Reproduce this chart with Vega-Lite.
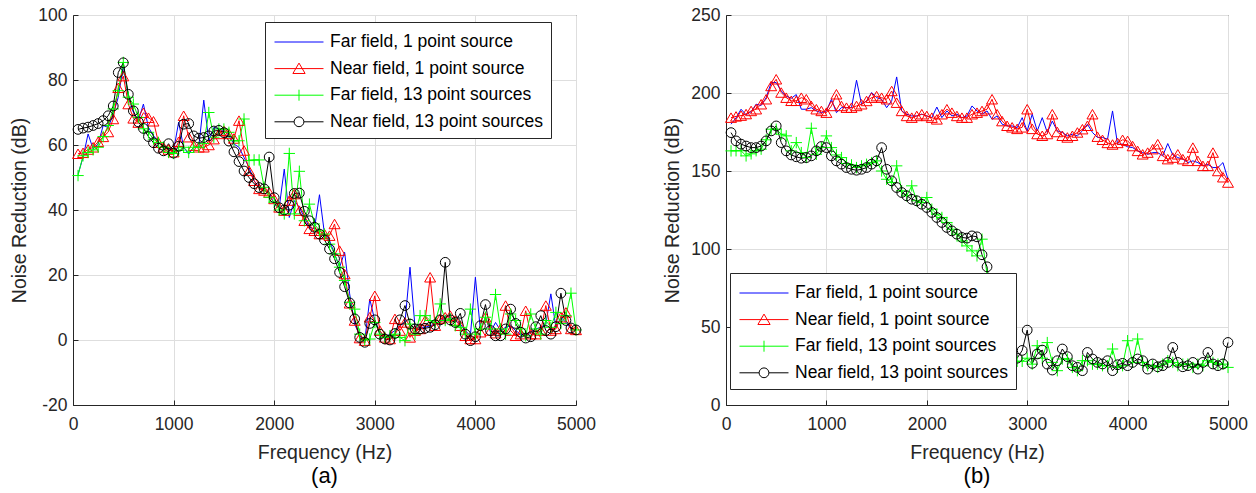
{
"$schema": "https://vega.github.io/schema/vega-lite/v6.json",
"background": "white",
"padding": {"left": 9, "top": 5, "right": 5, "bottom": 5},
"config": {
  "font": "Liberation Sans",
  "view": {"stroke": "#262626", "strokeWidth": 1},
  "axis": {"labelFontSize": 17.5, "titleFontSize": 19.5, "titleFontWeight": "normal", "labelColor": "#262626", "titleColor": "#262626", "domainColor": "#262626", "tickColor": "#262626", "gridColor": "#dedede", "tickSize": -5, "titlePadding": 8, "labelFlush": false},
  "axisX": {"labelPadding": 15, "titlePadding": 11},
  "axisY": {"labelPadding": 11},
  "title": {"fontSize": 22, "fontWeight": "normal", "color": "#000000", "font": "Liberation Sans"}
},
"datasets": {
"a": [
{"f":50,"FF1":51,"NF1":57.3,"FF13":50.6,"NF13":64.8},
{"f":100,"FF1":56.2,"NF1":57.6,"FF13":56.7,"NF13":65.2},
{"f":150,"FF1":63.4,"NF1":58.6,"FF13":57.7,"NF13":65.5},
{"f":200,"FF1":58.8,"NF1":59.3,"FF13":58.5,"NF13":66},
{"f":250,"FF1":60.3,"NF1":61,"FF13":59.3,"NF13":66.6},
{"f":300,"FF1":66,"NF1":62.5,"FF13":62.6,"NF13":67.5},
{"f":350,"FF1":65.4,"NF1":64,"FF13":66,"NF13":69},
{"f":400,"FF1":69.5,"NF1":68,"FF13":71.1,"NF13":72},
{"f":450,"FF1":74.7,"NF1":77.6,"FF13":76.7,"NF13":82.3},
{"f":500,"FF1":84.4,"NF1":81.2,"FF13":85.4,"NF13":85.3},
{"f":550,"FF1":74.7,"NF1":72.6,"FF13":74.7,"NF13":75.6},
{"f":600,"FF1":70.1,"NF1":68.2,"FF13":72.6,"NF13":70.5},
{"f":650,"FF1":67.5,"NF1":66.9,"FF13":68.5,"NF13":67.1},
{"f":700,"FF1":72.6,"NF1":69.9,"FF13":65,"NF13":65.1},
{"f":750,"FF1":65.4,"NF1":68.4,"FF13":63.9,"NF13":62.6},
{"f":800,"FF1":62.9,"NF1":67.3,"FF13":61.8,"NF13":60.7},
{"f":850,"FF1":60.8,"NF1":60.7,"FF13":60.8,"NF13":59},
{"f":900,"FF1":59.3,"NF1":59.3,"FF13":59.3,"NF13":58.2},
{"f":950,"FF1":58.8,"NF1":58.6,"FF13":57.7,"NF13":60.4},
{"f":1000,"FF1":58.3,"NF1":57.8,"FF13":57.4,"NF13":57.5},
{"f":1050,"FF1":67,"NF1":61,"FF13":58.3,"NF13":59.6},
{"f":1100,"FF1":59.3,"NF1":69,"FF13":59.3,"NF13":66.4},
{"f":1150,"FF1":57.2,"NF1":62.4,"FF13":57.7,"NF13":66.6},
{"f":1200,"FF1":59.3,"NF1":59.8,"FF13":59.3,"NF13":62.8},
{"f":1250,"FF1":59.3,"NF1":59.3,"FF13":59.3,"NF13":62.1},
{"f":1300,"FF1":73.8,"NF1":59.3,"FF13":60.5,"NF13":62.3},
{"f":1350,"FF1":61.3,"NF1":60,"FF13":70,"NF13":62.8},
{"f":1400,"FF1":65.4,"NF1":61.8,"FF13":62.4,"NF13":64.3},
{"f":1450,"FF1":64.9,"NF1":63.4,"FF13":64.9,"NF13":64.5},
{"f":1500,"FF1":64.4,"NF1":64.4,"FF13":64.9,"NF13":63.8},
{"f":1550,"FF1":62.9,"NF1":63.4,"FF13":63.9,"NF13":61.2},
{"f":1600,"FF1":60.3,"NF1":62,"FF13":61.3,"NF13":57.9},
{"f":1650,"FF1":59.3,"NF1":67.5,"FF13":61.3,"NF13":54.9},
{"f":1700,"FF1":56.2,"NF1":58.3,"FF13":68,"NF13":52},
{"f":1750,"FF1":53.1,"NF1":52.1,"FF13":55.2,"NF13":50},
{"f":1800,"FF1":49,"NF1":49,"FF13":55.4,"NF13":48.1},
{"f":1850,"FF1":47,"NF1":46.5,"FF13":55.4,"NF13":46.9},
{"f":1900,"FF1":46,"NF1":46,"FF13":47,"NF13":46.5},
{"f":1950,"FF1":45.4,"NF1":45.4,"FF13":43.9,"NF13":56.3},
{"f":2000,"FF1":41.8,"NF1":43.4,"FF13":42.4,"NF13":43.8},
{"f":2050,"FF1":40.8,"NF1":40.8,"FF13":40,"NF13":40.7},
{"f":2100,"FF1":52.6,"NF1":39.8,"FF13":38.8,"NF13":40},
{"f":2150,"FF1":37.7,"NF1":42.9,"FF13":57.4,"NF13":41.5},
{"f":2200,"FF1":42.9,"NF1":44.9,"FF13":38.8,"NF13":45.1},
{"f":2250,"FF1":40.8,"NF1":39.8,"FF13":51.9,"NF13":45.2},
{"f":2300,"FF1":37.7,"NF1":36.7,"FF13":36.7,"NF13":39.6},
{"f":2350,"FF1":34.7,"NF1":34.2,"FF13":41.8,"NF13":36.7},
{"f":2400,"FF1":34.2,"NF1":33.6,"FF13":35.7,"NF13":34.7},
{"f":2450,"FF1":44.7,"NF1":32.6,"FF13":33.6,"NF13":32.6},
{"f":2500,"FF1":32.6,"NF1":32.6,"FF13":32.6,"NF13":30.8},
{"f":2550,"FF1":30.6,"NF1":32.1,"FF13":29.5,"NF13":28},
{"f":2600,"FF1":26.5,"NF1":35.7,"FF13":26.5,"NF13":25},
{"f":2650,"FF1":22.4,"NF1":27.5,"FF13":22.4,"NF13":20.8},
{"f":2700,"FF1":27,"NF1":20.3,"FF13":18.3,"NF13":16.4},
{"f":2750,"FF1":14.2,"NF1":11.3,"FF13":11.6,"NF13":11.4},
{"f":2800,"FF1":4.9,"NF1":6,"FF13":9.5,"NF13":6.5},
{"f":2850,"FF1":1.3,"NF1":0.6,"FF13":1.8,"NF13":0.8},
{"f":2900,"FF1":-0.2,"NF1":-0.2,"FF13":0,"NF13":-0.7},
{"f":2950,"FF1":12.6,"NF1":7,"FF13":0.3,"NF13":5.1},
{"f":3000,"FF1":6,"NF1":13.6,"FF13":5.4,"NF13":6.2},
{"f":3050,"FF1":2.4,"NF1":2.9,"FF13":1.8,"NF13":1.8},
{"f":3100,"FF1":0.8,"NF1":0.8,"FF13":0.8,"NF13":0.3},
{"f":3150,"FF1":1.8,"NF1":0.3,"FF13":1.3,"NF13":0},
{"f":3200,"FF1":2.9,"NF1":6.5,"FF13":1.8,"NF13":2},
{"f":3250,"FF1":4.4,"NF1":2.9,"FF13":0.8,"NF13":6.2},
{"f":3300,"FF1":5.4,"NF1":5.4,"FF13":-0.2,"NF13":10.6},
{"f":3350,"FF1":22.4,"NF1":0.8,"FF13":4.9,"NF13":4.9},
{"f":3400,"FF1":3.9,"NF1":2.9,"FF13":1.8,"NF13":3.4},
{"f":3450,"FF1":3.9,"NF1":3.4,"FF13":7.5,"NF13":3.4},
{"f":3500,"FF1":3.9,"NF1":6,"FF13":7.5,"NF13":3.6},
{"f":3550,"FF1":4.4,"NF1":19.3,"FF13":6,"NF13":3.9},
{"f":3600,"FF1":4.9,"NF1":4.4,"FF13":5.4,"NF13":4.7},
{"f":3650,"FF1":5.4,"NF1":6.5,"FF13":11.1,"NF13":6.2},
{"f":3700,"FF1":7.5,"NF1":7,"FF13":6,"NF13":23.9},
{"f":3750,"FF1":7,"NF1":7.5,"FF13":6.5,"NF13":6.2},
{"f":3800,"FF1":6,"NF1":6,"FF13":4.4,"NF13":5.4},
{"f":3850,"FF1":4.9,"NF1":4.4,"FF13":3.9,"NF13":8.2},
{"f":3900,"FF1":2.9,"NF1":1.3,"FF13":1.8,"NF13":1.8},
{"f":3950,"FF1":1.3,"NF1":0.3,"FF13":9.5,"NF13":-0.2},
{"f":4000,"FF1":19.3,"NF1":0.3,"FF13":1.8,"NF13":1},
{"f":4050,"FF1":2.9,"NF1":2.4,"FF13":3.4,"NF13":4.4},
{"f":4100,"FF1":7,"NF1":7,"FF13":7,"NF13":10.9},
{"f":4150,"FF1":2.4,"NF1":2.9,"FF13":3.4,"NF13":2.9},
{"f":4200,"FF1":5.4,"NF1":2.1,"FF13":14,"NF13":1.3},
{"f":4250,"FF1":2.9,"NF1":3.4,"FF13":3.4,"NF13":1.3},
{"f":4300,"FF1":3.9,"NF1":10.6,"FF13":1.8,"NF13":3.4},
{"f":4350,"FF1":4.4,"NF1":2.9,"FF13":8,"NF13":9.5},
{"f":4400,"FF1":2.9,"NF1":1.3,"FF13":6,"NF13":5.1},
{"f":4450,"FF1":1.8,"NF1":1.8,"FF13":3.4,"NF13":2.4},
{"f":4500,"FF1":1.3,"NF1":9,"FF13":1.3,"NF13":0.6},
{"f":4550,"FF1":2.4,"NF1":1.8,"FF13":8,"NF13":1},
{"f":4600,"FF1":3.4,"NF1":1.8,"FF13":3.4,"NF13":4.1},
{"f":4650,"FF1":3.9,"NF1":2.9,"FF13":1.8,"NF13":7.5},
{"f":4700,"FF1":4.9,"NF1":10.6,"FF13":6,"NF13":2.9},
{"f":4750,"FF1":14.2,"NF1":2.9,"FF13":3.9,"NF13":1.8},
{"f":4800,"FF1":3.9,"NF1":3.4,"FF13":8.5,"NF13":4.1},
{"f":4850,"FF1":7,"NF1":7,"FF13":5.1,"NF13":14.4},
{"f":4900,"FF1":5.4,"NF1":8.5,"FF13":7.5,"NF13":6},
{"f":4950,"FF1":3.4,"NF1":3.4,"FF13":14.4,"NF13":3.7},
{"f":5000,"FF1":3.1,"NF1":3.1,"FF13":3.1,"NF13":3.1}
],
"b": [
{"f":50,"FF1":180,"NF1":184.2,"FF13":162.9,"NF13":174.6},
{"f":100,"FF1":184,"NF1":185,"FF13":163,"NF13":169.3},
{"f":150,"FF1":189.6,"NF1":185.5,"FF13":163,"NF13":167.2},
{"f":200,"FF1":186,"NF1":186.5,"FF13":159.7,"NF13":166},
{"f":250,"FF1":188,"NF1":188.5,"FF13":161,"NF13":165},
{"f":300,"FF1":192.8,"NF1":189.6,"FF13":163,"NF13":165},
{"f":350,"FF1":192,"NF1":192.8,"FF13":164,"NF13":166},
{"f":400,"FF1":197,"NF1":196,"FF13":170,"NF13":169.3},
{"f":450,"FF1":206.7,"NF1":204.5,"FF13":176.8,"NF13":175.7},
{"f":500,"FF1":206.7,"NF1":208.8,"FF13":176.8,"NF13":178.9},
{"f":550,"FF1":201.3,"NF1":200.3,"FF13":173.6,"NF13":168.2},
{"f":600,"FF1":198,"NF1":197,"FF13":172.5,"NF13":162.9},
{"f":650,"FF1":196.6,"NF1":195,"FF13":162.9,"NF13":160.3},
{"f":700,"FF1":199,"NF1":195,"FF13":168.2,"NF13":159.1},
{"f":750,"FF1":189.6,"NF1":197,"FF13":161.8,"NF13":158.2},
{"f":800,"FF1":189.6,"NF1":196,"FF13":158.6,"NF13":158.6},
{"f":850,"FF1":190.6,"NF1":191.7,"FF13":177.4,"NF13":159.7},
{"f":900,"FF1":188.5,"NF1":189.6,"FF13":160.7,"NF13":162.9},
{"f":950,"FF1":187.4,"NF1":188.5,"FF13":165,"NF13":165.7},
{"f":1000,"FF1":188.5,"NF1":187.4,"FF13":172.5,"NF13":165},
{"f":1050,"FF1":196,"NF1":191.7,"FF13":165,"NF13":159.7},
{"f":1100,"FF1":187.4,"NF1":199.2,"FF13":160.3,"NF13":156.5},
{"f":1150,"FF1":190.6,"NF1":191.7,"FF13":158.6,"NF13":154.4},
{"f":1200,"FF1":190.6,"NF1":190.6,"FF13":154.8,"NF13":152.2},
{"f":1250,"FF1":190.6,"NF1":190.6,"FF13":153.9,"NF13":151.1},
{"f":1300,"FF1":208.2,"NF1":191.7,"FF13":152.2,"NF13":150.5},
{"f":1350,"FF1":192.8,"NF1":192.8,"FF13":153.3,"NF13":151.1},
{"f":1400,"FF1":194.9,"NF1":194.9,"FF13":154.3,"NF13":152.2},
{"f":1450,"FF1":200.3,"NF1":197,"FF13":155.4,"NF13":154.4},
{"f":1500,"FF1":197,"NF1":198,"FF13":156.5,"NF13":156.5},
{"f":1550,"FF1":196,"NF1":197,"FF13":150,"NF13":165},
{"f":1600,"FF1":190.6,"NF1":196,"FF13":144.7,"NF13":151.1},
{"f":1650,"FF1":195,"NF1":201.3,"FF13":142.6,"NF13":143.7},
{"f":1700,"FF1":210.3,"NF1":193.8,"FF13":153.3,"NF13":139.4},
{"f":1750,"FF1":188.5,"NF1":188.5,"FF13":137.3,"NF13":136.2},
{"f":1800,"FF1":186.4,"NF1":185.3,"FF13":134.1,"NF13":134.1},
{"f":1850,"FF1":185.3,"NF1":184.2,"FF13":140.5,"NF13":131.9},
{"f":1900,"FF1":185.3,"NF1":185.3,"FF13":130.9,"NF13":130.9},
{"f":1950,"FF1":186.4,"NF1":186.4,"FF13":129.8,"NF13":128.7},
{"f":2000,"FF1":185.3,"NF1":185.3,"FF13":133,"NF13":126.6},
{"f":2050,"FF1":184.2,"NF1":184.2,"FF13":125.5,"NF13":123.4},
{"f":2100,"FF1":191,"NF1":183.1,"FF13":122.3,"NF13":120.2},
{"f":2150,"FF1":184.2,"NF1":186.4,"FF13":120.2,"NF13":117},
{"f":2200,"FF1":188.5,"NF1":189.6,"FF13":117,"NF13":113.8},
{"f":2250,"FF1":185.3,"NF1":187.4,"FF13":112.7,"NF13":111.6},
{"f":2300,"FF1":186.4,"NF1":185.3,"FF13":109.5,"NF13":109.5},
{"f":2350,"FF1":184.2,"NF1":184.2,"FF13":105.2,"NF13":107.4},
{"f":2400,"FF1":185.3,"NF1":184.2,"FF13":102,"NF13":107},
{"f":2450,"FF1":191.7,"NF1":186.4,"FF13":98.8,"NF13":108.4},
{"f":2500,"FF1":188.5,"NF1":187.4,"FF13":95.6,"NF13":107.8},
{"f":2550,"FF1":186.4,"NF1":188.5,"FF13":106.3,"NF13":96.3},
{"f":2600,"FF1":188.5,"NF1":189.6,"FF13":83.9,"NF13":88.6},
{"f":2650,"FF1":183.1,"NF1":196,"FF13":62,"NF13":65},
{"f":2700,"FF1":185.3,"NF1":186.4,"FF13":42,"NF13":45},
{"f":2750,"FF1":180,"NF1":182,"FF13":32,"NF13":35},
{"f":2800,"FF1":178.9,"NF1":179,"FF13":28,"NF13":32},
{"f":2850,"FF1":178.9,"NF1":178,"FF13":27,"NF13":32},
{"f":2900,"FF1":177.8,"NF1":177,"FF13":28,"NF13":30},
{"f":2950,"FF1":184.2,"NF1":178,"FF13":28,"NF13":35},
{"f":3000,"FF1":175.7,"NF1":189.6,"FF13":30,"NF13":48},
{"f":3050,"FF1":186.4,"NF1":177,"FF13":26.2,"NF13":26.7},
{"f":3100,"FF1":175.7,"NF1":173.7,"FF13":38,"NF13":32.7},
{"f":3150,"FF1":184.2,"NF1":172.6,"FF13":30,"NF13":35.2},
{"f":3200,"FF1":174.7,"NF1":173.7,"FF13":40,"NF13":26.2},
{"f":3250,"FF1":182,"NF1":186.4,"FF13":27.3,"NF13":22.4},
{"f":3300,"FF1":175.7,"NF1":175,"FF13":22,"NF13":28.4},
{"f":3350,"FF1":174.7,"NF1":172.6,"FF13":29.5,"NF13":35.9},
{"f":3400,"FF1":172.5,"NF1":171.5,"FF13":29.5,"NF13":31},
{"f":3450,"FF1":173.6,"NF1":172.6,"FF13":24.1,"NF13":25.2},
{"f":3500,"FF1":172.5,"NF1":174.7,"FF13":22,"NF13":24.1},
{"f":3550,"FF1":175.7,"NF1":176.8,"FF13":28.4,"NF13":22},
{"f":3600,"FF1":180,"NF1":179,"FF13":28.4,"NF13":33.7},
{"f":3650,"FF1":174.7,"NF1":186.4,"FF13":26.2,"NF13":29.5},
{"f":3700,"FF1":171.5,"NF1":172,"FF13":26.2,"NF13":27.3},
{"f":3750,"FF1":171.5,"NF1":170,"FF13":25.2,"NF13":26.3},
{"f":3800,"FF1":170.4,"NF1":168,"FF13":25.2,"NF13":28.4},
{"f":3850,"FF1":188.5,"NF1":167,"FF13":35.9,"NF13":22},
{"f":3900,"FF1":167.2,"NF1":168,"FF13":24.1,"NF13":25.8},
{"f":3950,"FF1":167.2,"NF1":170,"FF13":25.2,"NF13":26.7},
{"f":4000,"FF1":165.5,"NF1":169.3,"FF13":41.2,"NF13":25.2},
{"f":4050,"FF1":165,"NF1":166,"FF13":27.3,"NF13":27.3},
{"f":4100,"FF1":162.9,"NF1":162.9,"FF13":42.3,"NF13":29.5},
{"f":4150,"FF1":161.8,"NF1":160.7,"FF13":27.3,"NF13":28.4},
{"f":4200,"FF1":160.7,"NF1":161.8,"FF13":25.2,"NF13":23},
{"f":4250,"FF1":161.8,"NF1":164,"FF13":25.2,"NF13":26.3},
{"f":4300,"FF1":161.8,"NF1":167.2,"FF13":24.1,"NF13":24.5},
{"f":4350,"FF1":159.7,"NF1":159.7,"FF13":26.2,"NF13":25.2},
{"f":4400,"FF1":167.6,"NF1":157.6,"FF13":28.4,"NF13":27.3},
{"f":4450,"FF1":160.3,"NF1":158.6,"FF13":27.3,"NF13":36.9},
{"f":4500,"FF1":158.6,"NF1":160.7,"FF13":25.2,"NF13":27.3},
{"f":4550,"FF1":157.6,"NF1":157.6,"FF13":26.2,"NF13":24.5},
{"f":4600,"FF1":155.4,"NF1":156.5,"FF13":26.2,"NF13":25.2},
{"f":4650,"FF1":156.5,"NF1":165,"FF13":24.1,"NF13":27.3},
{"f":4700,"FF1":155.4,"NF1":156.5,"FF13":26.2,"NF13":23},
{"f":4750,"FF1":153.3,"NF1":153.3,"FF13":25.2,"NF13":27.3},
{"f":4800,"FF1":154.3,"NF1":153.3,"FF13":28.4,"NF13":33.7},
{"f":4850,"FF1":152.2,"NF1":161.8,"FF13":27.3,"NF13":26.3},
{"f":4900,"FF1":152.2,"NF1":150,"FF13":26.2,"NF13":25.2},
{"f":4950,"FF1":155.4,"NF1":146,"FF13":26.2,"NF13":26.3},
{"f":5000,"FF1":144.7,"NF1":142.6,"FF13":24.1,"NF13":40.1}
]
},
"spacing": 66,
"resolve": {"scale": {"x": "independent", "y": "independent", "color": "independent", "shape": "independent"}, "legend": {"shape": "independent", "color": "independent"}},
"hconcat": [
{
  "width": 503, "height": 390,
  "title": {"text": "(a)", "orient": "bottom", "offset": 4},
  "data": {"name": "a"},
  "transform": [{"fold": ["FF1", "NF1", "FF13", "NF13"], "as": ["key", "v"]}],
  "encoding": {
    "x": {"field": "f", "type": "quantitative", "scale": {"domain": [0, 5000], "nice": false, "zero": false}, "axis": {"values": [0, 1000, 2000, 3000, 4000, 5000], "format": "d", "title": "Frequency (Hz)"}},
    "y": {"field": "v", "type": "quantitative", "scale": {"domain": [-20, 100], "nice": false, "zero": false}, "axis": {"values": [-20, 0, 20, 40, 60, 80, 100], "title": "Noise Reduction (dB)", "labelExpr": "datum.value < 0 ? '-' + abs(datum.value) : datum.label"}}
  },
  "layer": [
    {"mark": {"type": "line", "strokeWidth": 1}, "encoding": {"color": {"field": "key", "type": "nominal", "scale": {"domain": ["FF1", "NF1", "FF13", "NF13"], "range": ["#0000ff", "#ff0000", "#00ff00", "#000000"]},
       "legend": {"title": null, "orient": "none", "legendX": 192, "legendY": 7, "direction": "vertical",
         "labelExpr": "datum.value === 'FF1' ? 'Far field, 1 point source' : datum.value === 'NF1' ? 'Near field, 1 point source' : datum.value === 'FF13' ? 'Far field, 13 point sources' : 'Near field, 13 point sources'",
         "symbolSize": 600, "symbolOffset": 14, "labelOffset": 18, "padding": 7, "rowPadding": 4.6, "labelLimit": 400,
         "strokeColor": "#262626", "fillColor": "white", "labelFontSize": 17.5, "labelColor": "#000000", "labelFont": "Liberation Sans", "symbolStrokeWidth": 1, "cornerRadius": 0, "symbolFillColor": "transparent"}}}},
    {"transform": [{"filter": "datum.key === 'NF1'"}], "mark": {"type": "point", "shape": "triangle-up", "filled": false, "color": "#ff0000", "size": 120, "strokeWidth": 1, "opacity": 1}},
    {"transform": [{"filter": "datum.key === 'FF13'"}], "mark": {"type": "point", "shape": "M-1,0H1M0,-1V1", "filled": false, "color": "#00ff00", "size": 130, "strokeWidth": 1, "opacity": 1}},
    {"transform": [{"filter": "datum.key === 'NF13'"}], "mark": {"type": "point", "shape": "circle", "filled": false, "color": "#000000", "size": 95, "strokeWidth": 1, "opacity": 1}},
    {"transform": [{"filter": "datum.f < 0"}], "mark": {"type": "point", "filled": false, "opacity": 1},
     "encoding": {"shape": {"field": "key", "type": "nominal",
       "scale": {"domain": ["FF1", "NF1", "FF13", "NF13"], "range": ["M-2,0H2", "M-2,0H2M0,-0.45L0.5,0.4L-0.5,0.4Z", "M-2,0H2M0,-0.45V0.45", "M-2,0H-0.4M0.4,0H2M0.4,0A0.4,0.4,0,1,1,-0.4,0A0.4,0.4,0,1,1,0.4,0"]},
       "legend": {"title": null, "orient": "none", "legendX": 192, "legendY": 7, "direction": "vertical",
         "labelExpr": "datum.value === 'FF1' ? 'Far field, 1 point source' : datum.value === 'NF1' ? 'Near field, 1 point source' : datum.value === 'FF13' ? 'Far field, 13 point sources' : 'Near field, 13 point sources'",
         "symbolSize": 600, "symbolOffset": 14, "labelOffset": 18, "padding": 7, "rowPadding": 4.6, "labelLimit": 400,
         "strokeColor": "#262626", "fillColor": "white", "labelFontSize": 17.5, "labelColor": "#000000", "labelFont": "Liberation Sans", "symbolStrokeWidth": 1, "cornerRadius": 0, "symbolFillColor": "transparent"}}}}
  ]
},
{
  "width": 502, "height": 390,
  "title": {"text": "(b)", "orient": "bottom", "offset": 4},
  "data": {"name": "b"},
  "transform": [{"fold": ["FF1", "NF1", "FF13", "NF13"], "as": ["key", "v"]}],
  "encoding": {
    "x": {"field": "f", "type": "quantitative", "scale": {"domain": [0, 5000], "nice": false, "zero": false}, "axis": {"values": [0, 1000, 2000, 3000, 4000, 5000], "format": "d", "title": "Frequency (Hz)"}},
    "y": {"field": "v", "type": "quantitative", "scale": {"domain": [0, 250], "nice": false, "zero": false}, "axis": {"values": [0, 50, 100, 150, 200, 250], "title": "Noise Reduction (dB)"}}
  },
  "layer": [
    {"mark": {"type": "line", "strokeWidth": 1}, "encoding": {"color": {"field": "key", "type": "nominal", "scale": {"domain": ["FF1", "NF1", "FF13", "NF13"], "range": ["#0000ff", "#ff0000", "#00ff00", "#000000"]},
       "legend": {"title": null, "orient": "none", "legendX": 4, "legendY": 258, "direction": "vertical",
         "labelExpr": "datum.value === 'FF1' ? 'Far field, 1 point source' : datum.value === 'NF1' ? 'Near field, 1 point source' : datum.value === 'FF13' ? 'Far field, 13 point sources' : 'Near field, 13 point sources'",
         "symbolSize": 600, "symbolOffset": 14, "labelOffset": 18, "padding": 7, "rowPadding": 4.6, "labelLimit": 400,
         "strokeColor": "#262626", "fillColor": "white", "labelFontSize": 17.5, "labelColor": "#000000", "labelFont": "Liberation Sans", "symbolStrokeWidth": 1, "cornerRadius": 0, "symbolFillColor": "transparent"}}}},
    {"transform": [{"filter": "datum.key === 'NF1'"}], "mark": {"type": "point", "shape": "triangle-up", "filled": false, "color": "#ff0000", "size": 120, "strokeWidth": 1, "opacity": 1}},
    {"transform": [{"filter": "datum.key === 'FF13'"}], "mark": {"type": "point", "shape": "M-1,0H1M0,-1V1", "filled": false, "color": "#00ff00", "size": 130, "strokeWidth": 1, "opacity": 1}},
    {"transform": [{"filter": "datum.key === 'NF13'"}], "mark": {"type": "point", "shape": "circle", "filled": false, "color": "#000000", "size": 95, "strokeWidth": 1, "opacity": 1}},
    {"transform": [{"filter": "datum.f < 0"}], "mark": {"type": "point", "filled": false, "opacity": 1},
     "encoding": {"shape": {"field": "key", "type": "nominal",
       "scale": {"domain": ["FF1", "NF1", "FF13", "NF13"], "range": ["M-2,0H2", "M-2,0H2M0,-0.45L0.5,0.4L-0.5,0.4Z", "M-2,0H2M0,-0.45V0.45", "M-2,0H-0.4M0.4,0H2M0.4,0A0.4,0.4,0,1,1,-0.4,0A0.4,0.4,0,1,1,0.4,0"]},
       "legend": {"title": null, "orient": "none", "legendX": 4, "legendY": 258, "direction": "vertical",
         "labelExpr": "datum.value === 'FF1' ? 'Far field, 1 point source' : datum.value === 'NF1' ? 'Near field, 1 point source' : datum.value === 'FF13' ? 'Far field, 13 point sources' : 'Near field, 13 point sources'",
         "symbolSize": 600, "symbolOffset": 14, "labelOffset": 18, "padding": 7, "rowPadding": 4.6, "labelLimit": 400,
         "strokeColor": "#262626", "fillColor": "white", "labelFontSize": 17.5, "labelColor": "#000000", "labelFont": "Liberation Sans", "symbolStrokeWidth": 1, "cornerRadius": 0, "symbolFillColor": "transparent"}}}}
  ]
}
]
}
